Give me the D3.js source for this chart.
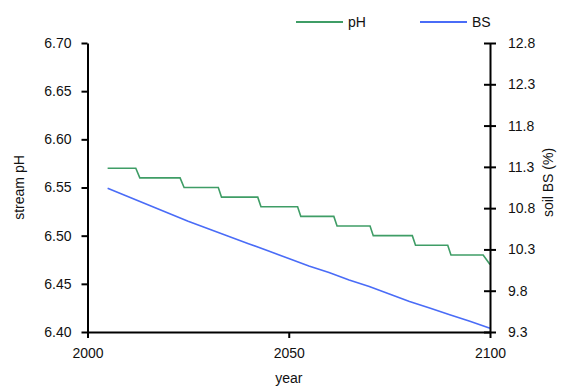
<!DOCTYPE html>
<html><head><meta charset="utf-8">
<script src="https://cdn.jsdelivr.net/npm/d3@7"></script>
<style>
html,body{margin:0;padding:0;background:#fff;}
svg text{font-family:"Liberation Sans",Arial,sans-serif;fill:#111;}
</style></head>
<body><svg id="c" width="566" height="389"></svg>
<script>
// ---- data ----
const xTicks = [2000, 2050, 2100];
const pHTicks = [6.40, 6.45, 6.50, 6.55, 6.60, 6.65, 6.70];
const bsTicks = [9.3, 9.8, 10.3, 10.8, 11.3, 11.8, 12.3, 12.8];
const pHYears  = [2005, 2012, 2013, 2023, 2024, 2032.5, 2033.3, 2042.3, 2043.1, 2052.2, 2053, 2061.2, 2062, 2070.2, 2071, 2080.7, 2081.5, 2089.5, 2090.3, 2098.3, 2100];
const pHValues = [6.57, 6.57, 6.56, 6.56, 6.55, 6.55, 6.54, 6.54, 6.53, 6.53, 6.52, 6.52, 6.51, 6.51, 6.50, 6.50, 6.49, 6.49, 6.48, 6.48, 6.47];
const bsYears  = [2005, 2010, 2015, 2020, 2025, 2030, 2035, 2040, 2045, 2050, 2055, 2060, 2065, 2070, 2075, 2080, 2085, 2090, 2095, 2100];
const bsValues = [11.04, 10.94, 10.84, 10.74, 10.64, 10.55, 10.46, 10.37, 10.28, 10.19, 10.10, 10.02, 9.93, 9.85, 9.76, 9.67, 9.59, 9.51, 9.43, 9.345];

const svg = d3.select("#c");
const L = 87.5, R = 490, T = 43, B = 332;
const x = d3.scaleLinear().domain([2000, 2100]).range([L, R]);
const yL = d3.scaleLinear().domain([6.40, 6.70]).range([B, T]);
const yR = d3.scaleLinear().domain([9.3, 12.8]).range([B, T]);
const green = "#3f9d66", blue = "#4a6cf7";
const fs = "14px";

// lines
const pHData = pHYears.map((yr, i) => [yr, pHValues[i]]);
const bsData = bsYears.map((yr, i) => [yr, bsValues[i]]);
svg.append("path").datum(bsData)
  .attr("d", d3.line().x(d => x(d[0])).y(d => yR(d[1])))
  .attr("fill", "none").attr("stroke", blue).attr("stroke-width", 1.6);
svg.append("path").datum(pHData)
  .attr("d", d3.line().x(d => x(d[0])).y(d => yL(d[1])))
  .attr("fill", "none").attr("stroke", green).attr("stroke-width", 1.6);

// axes
const gx = svg.append("g").attr("transform", `translate(0,${B})`)
  .call(d3.axisBottom(x).tickValues(xTicks).tickFormat(d3.format("d")).tickSize(6).tickSizeOuter(0));
const gl = svg.append("g").attr("transform", `translate(${L},0)`)
  .call(d3.axisLeft(yL).tickValues(pHTicks).tickFormat(d3.format(".2f")).tickSize(6).tickSizeOuter(0));
const gr = svg.append("g").attr("transform", `translate(${R},0)`)
  .call(d3.axisRight(yR).tickValues(bsTicks).tickFormat(d3.format(".1f")).tickSize(6).tickSizeOuter(0));
gr.selectAll(".tick line").attr("x1", -6);
[gx, gl, gr].forEach(g => {
  g.select(".domain").attr("stroke", "#000").attr("stroke-width", 2);
  g.selectAll(".tick line").attr("stroke", "#000").attr("stroke-width", 2);
  g.selectAll("text").attr("font-size", fs).attr("fill", "#111");
});
gx.selectAll("text").attr("dy", "1.2em");
gl.selectAll("text").attr("x", -16);
gr.selectAll("text").attr("x", 18);

// axis titles
svg.append("text").attr("x", x(2050)).attr("y", 383).attr("text-anchor", "middle").attr("font-size", fs).text("year");
svg.append("text").attr("transform", `translate(24,${(T + B) / 2}) rotate(-90)`).attr("text-anchor", "middle").attr("font-size", fs).text("stream pH");
svg.append("text").attr("transform", `translate(553,${(T + B) / 2 - 5}) rotate(-90)`).attr("text-anchor", "middle").attr("font-size", fs).text("soil BS (%)");

// legend
const legend = [{name: "pH", color: green, x0: 296}, {name: "BS", color: blue, x0: 420}];
legend.forEach(d => {
  svg.append("line").attr("x1", d.x0).attr("x2", d.x0 + 47).attr("y1", 22).attr("y2", 22)
    .attr("stroke", d.color).attr("stroke-width", 2);
  svg.append("text").attr("x", d.x0 + 52).attr("y", 27).attr("font-size", fs).text(d.name);
});
</script></body></html>
